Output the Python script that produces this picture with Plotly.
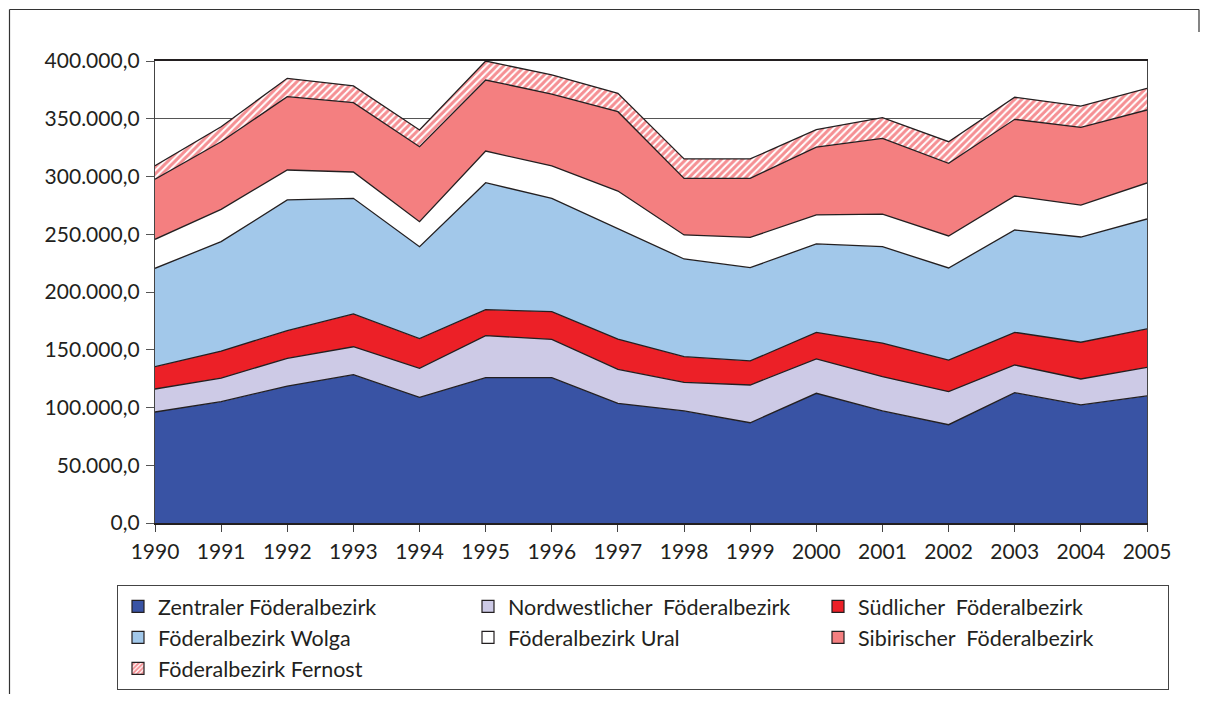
import plotly.graph_objects as go

years = list(range(1990, 2006))

# values per district (thousands)
zentral = [96.1, 105.0, 118.6, 128.4, 108.8, 125.8, 125.8, 103.6, 97.0, 86.8, 112.3, 97.0, 85.1, 112.8, 102.2, 110.0]
nordwest = [19.9, 20.5, 24.0, 24.2, 25.1, 36.4, 33.2, 29.5, 24.8, 32.7, 29.7, 29.7, 28.6, 24.0, 22.5, 24.8]
sued = [19.3, 23.4, 23.9, 28.4, 25.7, 22.5, 24.0, 26.2, 22.2, 20.8, 23.1, 29.1, 27.4, 28.3, 31.8, 33.2]
wolga = [85.2, 94.7, 113.2, 100.1, 79.6, 109.9, 98.1, 95.9, 84.6, 80.8, 76.5, 83.4, 79.7, 88.6, 91.1, 95.2]
ural = [25.1, 28.0, 25.9, 22.8, 21.7, 27.4, 28.0, 32.2, 20.8, 26.2, 25.1, 28.3, 27.7, 29.4, 27.7, 31.2]
sibir = [52.0, 58.5, 63.5, 60.0, 64.9, 61.5, 62.3, 68.7, 49.0, 51.1, 58.8, 65.5, 62.9, 66.4, 67.3, 63.2]
fernost = [11.8, 13.0, 15.9, 14.5, 14.5, 16.5, 16.5, 15.9, 16.8, 16.8, 15.0, 18.0, 18.7, 19.1, 18.4, 18.8]

names = [
    "Zentraler Föderalbezirk",
    "Nordwestlicher \u00a0Föderalbezirk",
    "Südlicher \u00a0Föderalbezirk",
    "Föderalbezirk Wolga",
    "Föderalbezirk Ural",
    "Sibirischer \u00a0Föderalbezirk",
    "Föderalbezirk Fernost",
]
series = [zentral, nordwest, sued, wolga, ural, sibir, fernost]
colors = ["#3953A4", "#CDCAE6", "#EC2027", "#A2C8EA", "#FFFFFF", "#F47F80", "#FFFFFF"]

LINE = "#231F20"
FONT = "Lato"
HATCH = dict(shape="/", fgcolor="#EC2027", bgcolor="#FFFFFF", size=5, solidity=0.6)

fig = go.Figure()
for i, (nm, vals, col) in enumerate(zip(names, series, colors)):
    kw = {}
    if i == 6:
        kw["fillpattern"] = HATCH
    fig.add_trace(go.Scatter(
        x=years, y=[v * 1000 for v in vals], name=nm, mode="lines",
        stackgroup="one", fillcolor=col,
        line=dict(color=LINE, width=1.3),
        showlegend=False, hoverinfo="skip", **kw))

# legend entries as square icons
for i, (nm, col) in enumerate(zip(names, colors)):
    marker = dict(color=col, line=dict(color=LINE, width=1.2))
    if i == 6:
        marker["pattern"] = dict(HATCH, size=4)
    fig.add_trace(go.Bar(x=[None], y=[None], name=nm, marker=marker,
                         showlegend=True, hoverinfo="skip"))

# page body has an 8px margin; lay out in page pixels shifted by it
OFF = 8
W, H = 1214 - 2 * OFF, 702 - 2 * OFF
L, R, T, B = 155 - OFF, 1147 - OFF, 61 - OFF, 523 - OFF


def px(x):
    return (x - OFF - L) / (R - L)


def py(y):
    return (B - (y - OFF)) / (B - T)


shapes = [
    dict(type="line", xref="paper", yref="paper", x0=px(9.5), x1=px(1199), y0=py(9.5), y1=py(9.5),
         line=dict(color="#333", width=1.2)),
    dict(type="line", xref="paper", yref="paper", x0=px(9.5), x1=px(9.5), y0=py(9.5), y1=py(702),
         line=dict(color="#333", width=1.2)),
    dict(type="line", xref="paper", yref="paper", x0=px(1199), x1=px(1199), y0=py(9.5), y1=py(32),
         line=dict(color="#333", width=1.2)),
]

fig.update_layout(
    width=W, height=H,
    margin=dict(l=L, r=W - R, t=T, b=H - B, autoexpand=False),
    paper_bgcolor="white", plot_bgcolor="white",
    separators=",.",
    font=dict(family=FONT, color=LINE, size=21),
    shapes=shapes,
    xaxis=dict(range=[1990, 2005], dtick=1, tick0=1990, showgrid=False, zeroline=False,
               showline=True, mirror=True, linecolor=LINE, linewidth=1.6,
               ticks="outside", ticklen=7, tickcolor="#444", ticklabelstandoff=2,
               tickfont=dict(size=21, family=FONT, color=LINE)),
    yaxis=dict(range=[0, 400000], dtick=50000, tickformat=",.1f", showgrid=True,
               gridcolor="#555", gridwidth=1, zeroline=False,
               showline=True, mirror=True, linecolor="#444", linewidth=1.4,
               ticks="outside", ticklen=8, tickcolor="#555", ticklabelstandoff=2,
               tickfont=dict(size=21, family=FONT, color=LINE)),
    legend=dict(orientation="h", xref="paper", yref="paper",
                x=px(117), y=py(585), xanchor="left", yanchor="top",
                bordercolor="#444", borderwidth=1, bgcolor="white",
                entrywidth=305, entrywidthmode="pixels",
                font=dict(size=21.5, family=FONT, color=LINE),
                traceorder="normal"),
    showlegend=True,
)

fig.write_html("out.html")
